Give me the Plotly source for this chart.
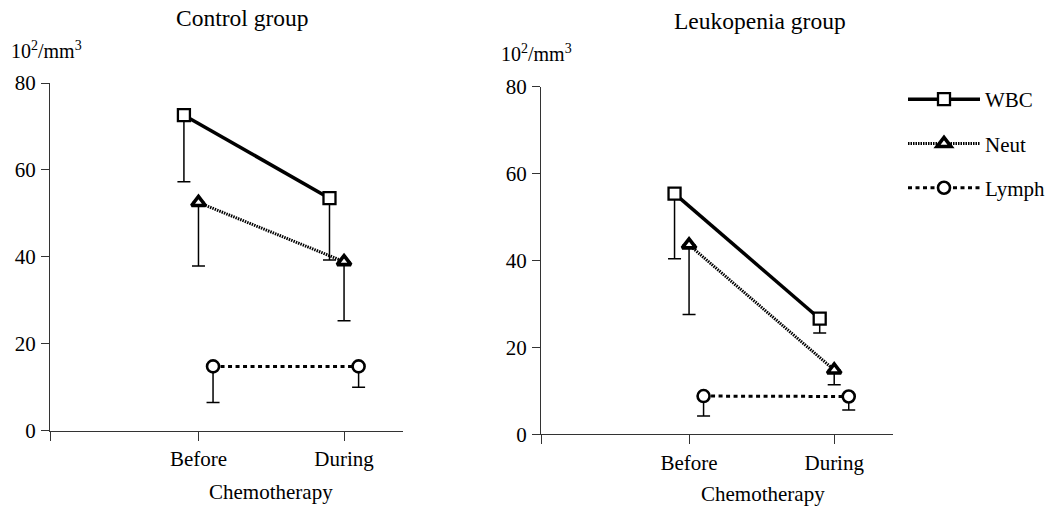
import plotly.graph_objects as go

# ---- data ----
categories = ["Before", "During"]
series_names = ["WBC", "Neut", "Lymph"]
panel_titles = ["Control group", "Leukopenia group"]
unit_label = "10<sup>2</sup>/mm<sup>3</sup>"
x_title = "Chemotherapy"
y_ticks = [0, 20, 40, 60, 80]

control_wbc = [72.6, 53.5]
control_wbc_err = [15.3, 14.2]
control_neut = [52.5, 38.9]
control_neut_err = [14.6, 13.6]
control_lymph = [14.8, 14.8]
control_lymph_err = [8.3, 4.8]

leuko_wbc = [55.4, 26.6]
leuko_wbc_err = [15.0, 3.3]
leuko_neut = [43.6, 14.8]
leuko_neut_err = [16.0, 3.4]
leuko_lymph = [8.8, 8.7]
leuko_lymph_err = [4.6, 3.1]

# ---- styling ----
FONT = "Liberation Serif, Times New Roman, DejaVu Serif, serif"
offsets = {"WBC": -0.1, "Neut": 0.0, "Lymph": 0.1}
styles = {
    "WBC": dict(line=dict(color="black", width=3.5),
                marker=dict(symbol="square", size=12, color="white",
                            line=dict(color="black", width=2.3))),
    "Neut": dict(line=dict(color="black", width=3, dash="1.5px,1px"),
                 marker=dict(symbol="triangle-up", size=12, color="white",
                             line=dict(color="black", width=3.6))),
    "Lymph": dict(line=dict(color="black", width=3, dash="4px,3.5px"),
                  marker=dict(symbol="circle", size=12, color="white",
                              line=dict(color="black", width=2.6))),
}

panels = [
    dict(means={"WBC": control_wbc, "Neut": control_neut, "Lymph": control_lymph},
         errs={"WBC": control_wbc_err, "Neut": control_neut_err, "Lymph": control_lymph_err}),
    dict(means={"WBC": leuko_wbc, "Neut": leuko_neut, "Lymph": leuko_lymph},
         errs={"WBC": leuko_wbc_err, "Neut": leuko_neut_err, "Lymph": leuko_lymph_err}),
]

W, H = 1047, 506
X0, X1 = -0.02, 2.405
# pixel geometry of the two plot areas
xdom_px = [(50, 403), (541, 893)]
ydom_px = [(83, 430.7), (86.7, 434.3)]

fig = go.Figure()
for p, panel in enumerate(panels):
    xa = "x" if p == 0 else "x2"
    ya = "y" if p == 0 else "y2"
    for name in series_names:
        xs = [i + 1 + offsets[name] for i in range(len(categories))]
        st = styles[name]
        fig.add_trace(go.Scatter(
            x=xs, y=panel["means"][name], mode="lines+markers", name=name,
            legendgroup=name, showlegend=(p == 0),
            line=st["line"], marker=st["marker"],
            error_y=dict(type="data", symmetric=False,
                         array=[0] * len(categories),
                         arrayminus=panel["errs"][name],
                         color="black", thickness=1.5, width=6.5),
            xaxis=xa, yaxis=ya, cliponaxis=False,
        ))

axis_common = dict(showline=True, linecolor="#333", linewidth=1.3, ticks="outside",
                   tickcolor="#333", tickwidth=1.3, showgrid=False, zeroline=False,
                   tickfont=dict(size=21, color="black", family=FONT))

layout = dict(
    width=W, height=H, margin=dict(l=0, r=0, t=0, b=0, autoexpand=False),
    paper_bgcolor="white", plot_bgcolor="white",
    font=dict(family=FONT, color="black", size=21),
    legend=dict(x=903 / W, y=1 - 79 / H, xanchor="left", yanchor="top",
                tracegroupgap=14, itemwidth=72, font=dict(size=21, family=FONT),
                bgcolor="rgba(0,0,0,0)"),
)
for p in range(2):
    suf = "" if p == 0 else "2"
    (xl, xr), (yt, yb) = xdom_px[p], ydom_px[p]
    layout["xaxis" + suf] = dict(
        axis_common, domain=[xl / W, xr / W], range=[X0, X1],
        tickvals=[X0] + [i + 1 for i in range(len(categories))],
        ticktext=[""] + categories, ticklen=9, ticklabelstandoff=0,
        anchor="y" + suf, automargin=False)
    layout["yaxis" + suf] = dict(
        axis_common, domain=[1 - yb / H, 1 - yt / H], range=[0, 80],
        tickvals=y_ticks, ticklen=8, ticklabelstandoff=1,
        anchor="x" + suf, automargin=False)
fig.update_layout(**layout)

ann = []
title_pos = [(242, 18), (760, 21)]
unit_pos = [(46, 50), (536, 53)]
xt_pos = [(271, 492), (763, 494)]
for p in range(2):
    ann.append(dict(text=panel_titles[p], x=title_pos[p][0] / W, y=1 - title_pos[p][1] / H,
                    xref="paper", yref="paper", showarrow=False, font=dict(size=23.5),
                    xanchor="center", yanchor="middle"))
    ann.append(dict(text=unit_label, x=unit_pos[p][0] / W, y=1 - unit_pos[p][1] / H,
                    xref="paper", yref="paper", showarrow=False, font=dict(size=20),
                    xanchor="center", yanchor="middle"))
    ann.append(dict(text=x_title, x=xt_pos[p][0] / W, y=1 - xt_pos[p][1] / H,
                    xref="paper", yref="paper", showarrow=False, font=dict(size=21),
                    xanchor="center", yanchor="middle"))
fig.update_layout(annotations=ann)

fig.write_html(
    "out.html",
    config={"displayModeBar": False},
    post_script="document.body.style.margin='0';document.body.style.overflow='hidden';",
)
